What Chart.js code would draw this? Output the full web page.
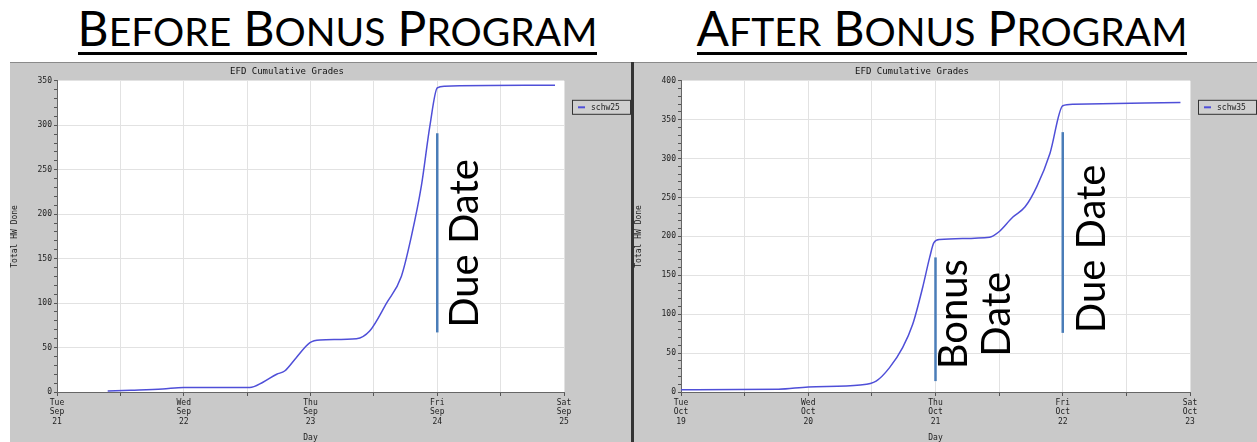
<!DOCTYPE html>
<html>
<head>
<meta charset="utf-8">
<script src="https://cdn.jsdelivr.net/npm/chart.js@4/dist/chart.umd.min.js"></script>
<style>
    body { margin: 0; width: 1257px; height: 442px; background: #fff; overflow: hidden; position: relative; }
    .head { position: absolute; top: 0; height: 60px; text-align: center; font-family: Lato, "Open Sans", sans-serif;
        font-size: 48px; line-height: 56px; color: #000; letter-spacing: 0; }
    .head span.u { border-bottom: 3px solid #000; display: inline-block; line-height: 42px; }
    .head small { font-size: 39px; }
    .panel { position: absolute; top: 62px; height: 380px; background: #c9c9c9; border-top: 1px solid #8a8a8a; }
    .panel canvas { position: absolute; left: 0; top: 0; }
    #divider { position: absolute; left: 631px; top: 62px; width: 3px; height: 380px; background: #333; }
</style>
</head>
<body>
<div class="head" style="left:0;width:675px"><span class="u">B<small>EFORE</small> B<small>ONUS</small> P<small>ROGRAM</small></span></div>
<div class="head" style="left:630px;width:624px"><span class="u">A<small>FTER</small> B<small>ONUS</small> P<small>ROGRAM</small></span></div>
<div class="panel" style="left:10px;width:621px"><canvas id="before" width="621" height="380"></canvas></div>
<div id="divider"></div>
<div class="panel" style="left:634px;width:623px"><canvas id="after" width="623" height="380"></canvas></div>
<script>
// x = hours since Tuesday 00:00
var beforeHours = [9.6, 14, 20, 24, 36.5, 39, 41.6, 43.1, 45.3, 47.9, 49.8, 56.7, 59.2, 62.4, 65.2, 67.1, 69, 70.6, 72, 73.4, 94.3];
var beforeDone = [1, 2, 3.5, 5, 5, 11, 20, 23.6, 38.6, 55.5, 58.5, 60, 68.6, 100, 130, 175, 232, 299, 342, 344, 345];

var afterHours = [0, 18.4, 24, 33.8, 36.8, 39.3, 41.8, 43.7, 45.6, 46.9, 47.7, 48.8, 58.2, 59.8, 62.6, 64.9, 67.1, 69.6, 72, 74, 94.2];
var afterDone = [3, 3.5, 6.5, 9, 14, 31, 57, 87, 135, 173, 192, 196, 199, 205, 225, 238, 264, 307, 368, 370, 372];

var beforeDays = [['Tue', 'Sep', '21'], ['Wed', 'Sep', '22'], ['Thu', 'Sep', '23'], ['Fri', 'Sep', '24'], ['Sat', 'Sep', '25']];
var afterDays = [['Tue', 'Oct', '19'], ['Wed', 'Oct', '20'], ['Thu', 'Oct', '21'], ['Fri', 'Oct', '22'], ['Sat', 'Oct', '23']];

// vertical marker lines: hour, from value, to value
var beforeMarks = [{ hour: 72, from: 67, to: 291 }];
var afterMarks = [{ hour: 48, from: 14, to: 173 }, { hour: 72, from: 76, to: 334 }];
// rotated labels: lines, hour and value of text centre
var beforeNotes = [{ lines: ['Due Date'], hour: 77.2, value: 167 }];
var afterNotes = [{ lines: ['Bonus', 'Date'], hour: 55.6, value: 100 }, { lines: ['Due Date'], hour: 77.6, value: 184 }];

var small = { family: 'DejaVu Sans Mono', size: 8 };

var extras = {
    id: 'extras',
    beforeDraw: function (chart) {
        var ctx = chart.ctx, a = chart.chartArea;
        ctx.save();
        ctx.fillStyle = '#fff';
        ctx.fillRect(a.left, a.top, a.right - a.left, a.bottom - a.top);
        ctx.restore();
    },
    afterDatasetsDraw: function (chart) {
        var ctx = chart.ctx, a = chart.chartArea, o = chart.options.plugins.extras;
        var xs = chart.scales.x, ys = chart.scales.y;
        ctx.save();
        ctx.strokeStyle = '#4a7db8';
        ctx.lineWidth = 2.5;
        o.marks.forEach(function (m) {
            var x = xs.getPixelForValue(m.hour);
            ctx.beginPath();
            ctx.moveTo(x, ys.getPixelForValue(m.from));
            ctx.lineTo(x, ys.getPixelForValue(m.to));
            ctx.stroke();
        });
        ctx.fillStyle = '#000';
        ctx.font = '40px Lato';
        ctx.textAlign = 'center';
        ctx.textBaseline = 'middle';
        o.notes.forEach(function (n) {
            ctx.save();
            ctx.translate(xs.getPixelForValue(n.hour), ys.getPixelForValue(n.value));
            ctx.rotate(-Math.PI / 2);
            n.lines.forEach(function (s, i) {
                ctx.fillText(s, 0, (i - (n.lines.length - 1) / 2) * 43);
            });
            ctx.restore();
        });
        // legend box
        var ds = chart.data.datasets[0];
        var lx = a.right + 8, ly = a.top + 19;
        ctx.fillStyle = '#cfcfcf';
        ctx.fillRect(lx, ly, 58, 14);
        ctx.strokeStyle = '#333';
        ctx.lineWidth = 1;
        ctx.strokeRect(lx + 0.5, ly + 0.5, 58, 14);
        ctx.strokeStyle = ds.borderColor;
        ctx.lineWidth = 2;
        ctx.beginPath();
        ctx.moveTo(lx + 6, ly + 7.5);
        ctx.lineTo(lx + 13, ly + 7.5);
        ctx.stroke();
        ctx.fillStyle = '#222';
        ctx.font = '8px "DejaVu Sans Mono"';
        ctx.textAlign = 'left';
        ctx.fillText(ds.label, lx + 19, ly + 8);
        ctx.restore();
    }
};

function makeChart(id, hours, done, label, days, yMax, marks, notes) {
    var pts = hours.map(function (h, i) { return { x: h, y: done[i] }; });
    return new Chart(document.getElementById(id).getContext('2d'), {
        type: 'line',
        data: {
            datasets: [{
                label: label,
                data: pts,
                borderColor: '#4f4fd8',
                borderWidth: 1.5,
                pointRadius: 0,
                cubicInterpolationMode: 'monotone'
            }]
        },
        options: {
            responsive: false,
            animation: false,
            layout: { padding: { left: 0, right: 67, top: 0, bottom: 0 } },
            plugins: {
                legend: { display: false },
                tooltip: { enabled: false },
                title: {
                    display: true,
                    text: 'EFD Cumulative Grades',
                    color: '#111',
                    font: { family: 'DejaVu Sans Mono', size: 9, weight: 'normal' },
                    padding: { top: 3, bottom: 4 }
                },
                extras: { marks: marks, notes: notes }
            },
            scales: {
                x: {
                    type: 'linear',
                    min: 0,
                    max: 96,
                    afterFit: function (s) { s.height = 51; },
                    ticks: {
                        stepSize: 12,
                        maxRotation: 0,
                        autoSkip: false,
                        color: '#222',
                        font: small,
                        padding: 2,
                        callback: function (v) { return v % 24 === 0 ? days[v / 24] : ''; }
                    },
                    grid: { color: '#e2e2e2', tickColor: '#555', tickLength: 4 },
                    border: { color: '#666' },
                    title: { display: true, text: 'Day', color: '#222', font: small, padding: 0 }
                },
                y: {
                    min: 0,
                    max: yMax,
                    afterFit: function (s) { s.width = 47; },
                    ticks: {
                        stepSize: 10,
                        autoSkip: false,
                        color: '#222',
                        font: small,
                        padding: 2,
                        callback: function (v) { return v % 50 === 0 ? v : ''; }
                    },
                    grid: {
                        color: function (c) { return c.tick && c.tick.value % 50 === 0 ? '#e2e2e2' : 'rgba(0,0,0,0)'; },
                        tickColor: '#555',
                        tickLength: 3
                    },
                    border: { color: '#666' },
                    title: { display: true, text: 'Total HW Done', color: '#222', font: small, padding: 0 }
                }
            }
        },
        plugins: [extras]
    });
}

makeChart('before', beforeHours, beforeDone, 'schw25', beforeDays, 350, beforeMarks, beforeNotes);
makeChart('after', afterHours, afterDone, 'schw35', afterDays, 400, afterMarks, afterNotes);
</script>
</body>
</html>
